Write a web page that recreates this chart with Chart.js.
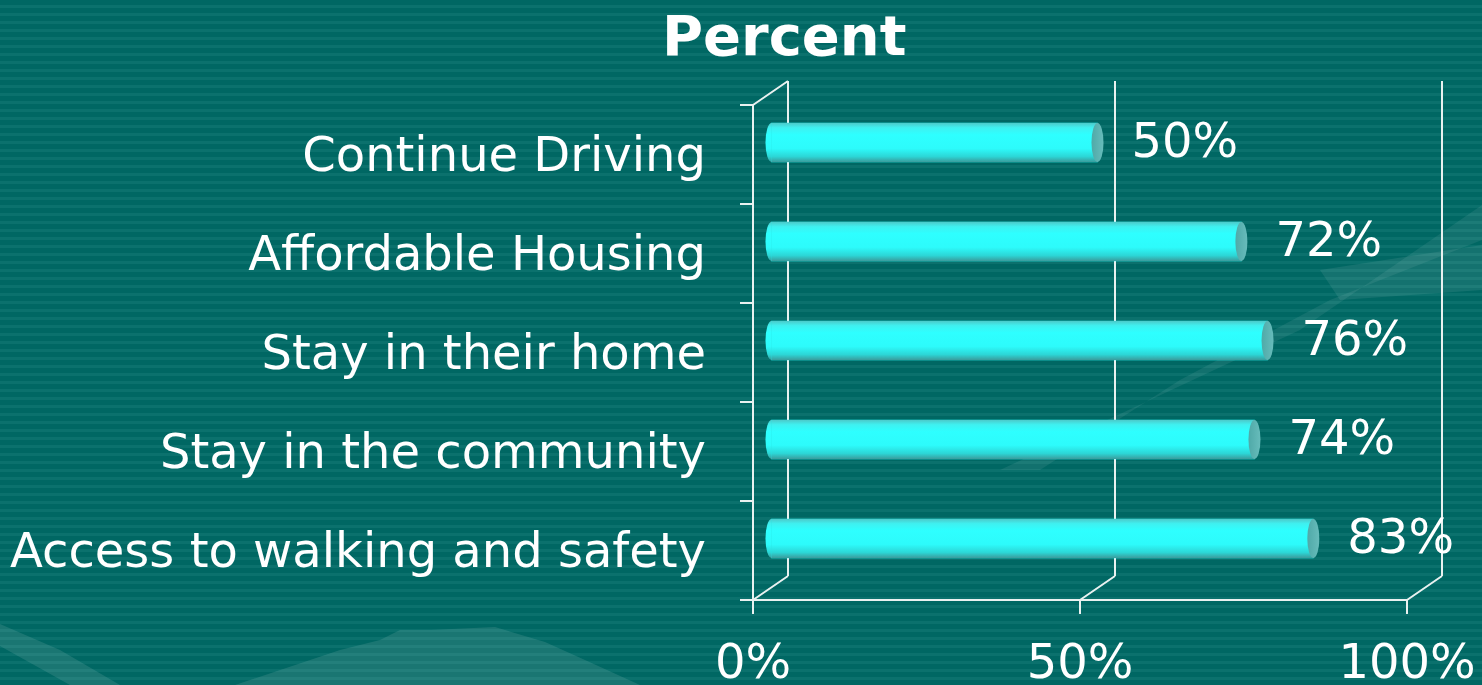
<!DOCTYPE html>
<html>
<head>
<meta charset="utf-8">
<script src="https://cdn.jsdelivr.net/npm/chart.js@4"></script>
<style>
  body { margin: 0; }
  #wrap {
    position: relative;
    width: 1482px;
    height: 685px;
    overflow: hidden;
    background: repeating-linear-gradient(180deg, #006763 0px, #006763 5px, #0b716d 5px, #0b716d 8px);
  }
  #deco { position: absolute; left: 0; top: 0; }
  #title {
    position: absolute;
    left: 662px;
    top: 8px;
    font: bold 56px "DejaVu Sans", sans-serif;
    line-height: 1;
    color: #ffffff;
  }
  canvas { position: absolute; left: 0; top: 0; }
</style>
</head>
<body>
<div id="wrap">
  <svg id="deco" width="1482" height="685">
    <polygon points="0,624 60,650 120,685 70,685 0,646" fill="rgba(255,255,255,0.10)"/>
    <polygon points="235,685 340,650 380,640 400,630 430,630 495,627 545,642 585,660 640,685" fill="rgba(255,255,255,0.10)"/>
    <polygon points="1000,470 1150,400 1300,330 1482,205 1482,240 1330,300 1180,380 1040,470" fill="rgba(255,255,255,0.07)"/>
    <polygon points="1320,270 1482,245 1482,290 1340,300" fill="rgba(255,255,255,0.08)"/>
  </svg>
  <div id="title">Percent</div>
  <canvas id="percentChart" width="1482" height="685"></canvas>
</div>
<script>
// chart data
const categories = ['Continue Driving', 'Affordable Housing', 'Stay in their home', 'Stay in the community', 'Access to walking and safety'];
const percentValues = [50, 72, 76, 74, 83];
const tickValues = [0, 50, 100];

const DEPTH_X = 35;
const DEPTH_Y = 24;
const lineColor = '#e9f1f0';

// back walls of the 3d frame, drawn behind the bars
const backFrame = {
    id: 'backFrame',
    beforeDatasetsDraw(chart) {
        const ctx = chart.ctx;
        const xs = chart.scales.x;
        const area = chart.chartArea;
        ctx.save();
        ctx.strokeStyle = lineColor;
        ctx.lineWidth = 2;
        ctx.beginPath();
        tickValues.forEach(v => {
            const px = xs.getPixelForValue(v);
            ctx.moveTo(px + DEPTH_X, area.top - DEPTH_Y);
            ctx.lineTo(px + DEPTH_X, area.bottom - DEPTH_Y);
            ctx.moveTo(px, area.bottom);
            ctx.lineTo(px + DEPTH_X, area.bottom - DEPTH_Y);
        });
        ctx.moveTo(area.left, area.top);
        ctx.lineTo(area.left + DEPTH_X, area.top - DEPTH_Y);
        ctx.stroke();
        ctx.restore();

        // bars sit in the middle of the depth
        ctx.save();
        ctx.translate(DEPTH_X / 2, -DEPTH_Y / 2);
    },
    afterDatasetsDraw(chart) {
        const ctx = chart.ctx;
        const meta = chart.getDatasetMeta(0);
        meta.data.forEach((bar, i) => {
            const p = bar.getProps(['x', 'y', 'base', 'height'], true);
            const top = p.y - p.height / 2;
            const bottom = p.y + p.height / 2;
            const r = p.height / 2;
            const rx = 6;

            const grad = ctx.createLinearGradient(0, top, 0, bottom);
            grad.addColorStop(0, '#4ccaca');
            grad.addColorStop(0.12, '#3ff0f0');
            grad.addColorStop(0.3, '#2effff');
            grad.addColorStop(0.65, '#2dfbfb');
            grad.addColorStop(0.86, '#2cd6d6');
            grad.addColorStop(1, '#3a9c9c');

            ctx.fillStyle = grad;
            ctx.fillRect(p.base, top, p.x - p.base, p.height);
            // rounded left end
            ctx.beginPath();
            ctx.ellipse(p.base, p.y, rx, r, 0, Math.PI / 2, Math.PI * 1.5);
            ctx.fill();
            // end cap
            const capGrad = ctx.createLinearGradient(p.x - rx, 0, p.x + rx, 0);
            capGrad.addColorStop(0, '#4fa9a8');
            capGrad.addColorStop(1, '#67bcbb');
            ctx.beginPath();
            ctx.ellipse(p.x, p.y, rx, r, 0, 0, Math.PI * 2);
            ctx.fillStyle = capGrad;
            ctx.fill();

            // value label
            ctx.fillStyle = '#ffffff';
            ctx.font = '48px "DejaVu Sans", sans-serif';
            ctx.textAlign = 'left';
            ctx.textBaseline = 'middle';
            ctx.fillText(percentValues[i] + '%', p.x + rx + 28, p.y + 2);
        });
        ctx.restore();
    }
};

const ctx = document.getElementById('percentChart').getContext('2d');
const percentChart = new Chart(ctx, {
    type: 'bar',
    data: {
        labels: categories,
        datasets: [{
            label: 'Percent',
            data: percentValues,
            backgroundColor: '#2efcfc',
            borderWidth: 0,
            barThickness: 39,
            categoryPercentage: 1
        }]
    },
    options: {
        indexAxis: 'y',
        responsive: false,
        animation: false,
        devicePixelRatio: 1,
        layout: {
            padding: { top: 105, right: 75, left: 0, bottom: 0 }
        },
        plugins: {
            legend: { display: false },
            title: { display: false },
            tooltip: { enabled: false }
        },
        scales: {
            x: {
                min: 0,
                max: 100,
                afterFit: scale => {
                    scale.height = 85;
                    scale.paddingLeft = 0;
                    scale.paddingRight = 0;
                },
                afterBuildTicks: scale => {
                    scale.ticks = tickValues.map(v => ({ value: v }));
                },
                ticks: {
                    color: '#ffffff',
                    font: { family: '"DejaVu Sans", sans-serif', size: 48 },
                    padding: 23,
                    maxRotation: 0,
                    callback: v => v + '%'
                },
                grid: {
                    drawOnChartArea: false,
                    drawTicks: true,
                    tickLength: 14,
                    color: lineColor,
                    lineWidth: 2
                },
                border: { color: lineColor, width: 2 }
            },
            y: {
                afterFit: scale => { scale.width = 753; },
                ticks: {
                    color: '#ffffff',
                    font: { family: '"DejaVu Sans", sans-serif', size: 48 },
                    padding: 34,
                    labelOffset: 4
                },
                grid: {
                    drawOnChartArea: false,
                    drawTicks: true,
                    tickLength: 13,
                    color: lineColor,
                    lineWidth: 2
                },
                border: { color: lineColor, width: 2 }
            }
        }
    },
    plugins: [backFrame]
});
</script>
</body>
</html>
